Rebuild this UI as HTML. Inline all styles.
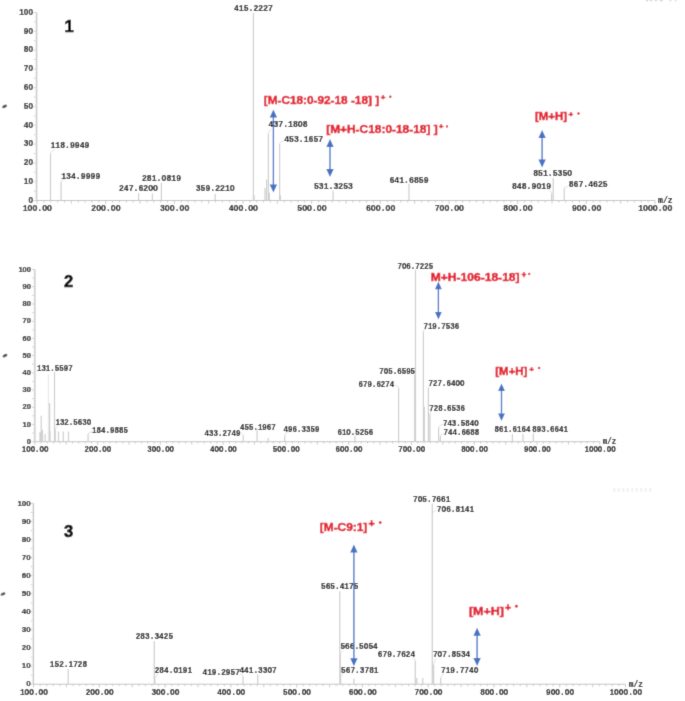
<!DOCTYPE html>
<html><head><meta charset="utf-8"><style>
html,body{margin:0;padding:0;background:#fff;}
svg{display:block;}

.ml{font-family:"Liberation Mono",monospace;font-weight:bold;fill:#0a0a0a;stroke:#0a0a0a;stroke-width:0.14px;}
.yl{font-family:"Liberation Sans",sans-serif;font-weight:bold;fill:#222;stroke:#222;stroke-width:0.18px;}
.num{font-family:"Liberation Sans",sans-serif;font-weight:bold;font-size:16.5px;fill:#000;stroke:#000;stroke-width:0.6px;}
.red{font-family:"Liberation Sans",sans-serif;font-weight:bold;fill:#e31b2c;stroke:#e31b2c;stroke-width:0.45px;}
</style></head><body>
<svg width="685" height="701" viewBox="0 0 685 701">
<defs><filter id="bl" x="0" y="0" width="685" height="701" filterUnits="userSpaceOnUse"><feConvolveMatrix order="3" kernelMatrix="1 6 1 6 36 6 1 6 1" divisor="64" edgeMode="duplicate"/></filter></defs>
<g filter="url(#bl)">
<rect width="685" height="701" fill="#fff"/>
<path d="M36.8 12.5V200.5H655" stroke="#c4c4c4" stroke-width="1" fill="none"/>
<path d="M33.4 200.5H36.8M35.4 198.62H36.8M35.4 196.74H36.8M35.4 194.86H36.8M35.4 192.98H36.8M33.8 191.1H36.8M35.4 189.22H36.8M35.4 187.34H36.8M35.4 185.46H36.8M35.4 183.58H36.8M33.4 181.7H36.8M35.4 179.82H36.8M35.4 177.94H36.8M35.4 176.06H36.8M35.4 174.18H36.8M33.8 172.3H36.8M35.4 170.42H36.8M35.4 168.54H36.8M35.4 166.66H36.8M35.4 164.78H36.8M33.4 162.9H36.8M35.4 161.02H36.8M35.4 159.14H36.8M35.4 157.26H36.8M35.4 155.38H36.8M33.8 153.5H36.8M35.4 151.62H36.8M35.4 149.74H36.8M35.4 147.86H36.8M35.4 145.98H36.8M33.4 144.1H36.8M35.4 142.22H36.8M35.4 140.34H36.8M35.4 138.46H36.8M35.4 136.58H36.8M33.8 134.7H36.8M35.4 132.82H36.8M35.4 130.94H36.8M35.4 129.06H36.8M35.4 127.18H36.8M33.4 125.3H36.8M35.4 123.42H36.8M35.4 121.54H36.8M35.4 119.66H36.8M35.4 117.78H36.8M33.8 115.9H36.8M35.4 114.02H36.8M35.4 112.14H36.8M35.4 110.26H36.8M35.4 108.38H36.8M33.4 106.5H36.8M35.4 104.62H36.8M35.4 102.74H36.8M35.4 100.86H36.8M35.4 98.98H36.8M33.8 97.1H36.8M35.4 95.22H36.8M35.4 93.34H36.8M35.4 91.46H36.8M35.4 89.58H36.8M33.4 87.7H36.8M35.4 85.82H36.8M35.4 83.94H36.8M35.4 82.06H36.8M35.4 80.18H36.8M33.8 78.3H36.8M35.4 76.42H36.8M35.4 74.54H36.8M35.4 72.66H36.8M35.4 70.78H36.8M33.4 68.9H36.8M35.4 67.02H36.8M35.4 65.14H36.8M35.4 63.26H36.8M35.4 61.38H36.8M33.8 59.5H36.8M35.4 57.62H36.8M35.4 55.74H36.8M35.4 53.86H36.8M35.4 51.98H36.8M33.4 50.1H36.8M35.4 48.22H36.8M35.4 46.34H36.8M35.4 44.46H36.8M35.4 42.58H36.8M33.8 40.7H36.8M35.4 38.82H36.8M35.4 36.94H36.8M35.4 35.06H36.8M35.4 33.18H36.8M33.4 31.3H36.8M35.4 29.42H36.8M35.4 27.54H36.8M35.4 25.66H36.8M35.4 23.78H36.8M33.8 21.9H36.8M35.4 20.02H36.8M35.4 18.14H36.8M35.4 16.26H36.8M35.4 14.38H36.8M33.4 12.5H36.8" stroke="#c4c4c4" stroke-width="0.8" fill="none"/>
<path d="M37 200.5V203.9M43.87 200.5V202.5M50.73 200.5V202.5M57.6 200.5V202.5M64.47 200.5V202.5M71.33 200.5V203.7M78.2 200.5V202.5M85.07 200.5V202.5M91.93 200.5V202.5M98.8 200.5V202.5M105.67 200.5V203.9M112.53 200.5V202.5M119.4 200.5V202.5M126.27 200.5V202.5M133.13 200.5V202.5M140 200.5V203.7M146.87 200.5V202.5M153.73 200.5V202.5M160.6 200.5V202.5M167.47 200.5V202.5M174.33 200.5V203.9M181.2 200.5V202.5M188.07 200.5V202.5M194.93 200.5V202.5M201.8 200.5V202.5M208.67 200.5V203.7M215.53 200.5V202.5M222.4 200.5V202.5M229.27 200.5V202.5M236.13 200.5V202.5M243 200.5V203.9M249.87 200.5V202.5M256.73 200.5V202.5M263.6 200.5V202.5M270.47 200.5V202.5M277.33 200.5V203.7M284.2 200.5V202.5M291.07 200.5V202.5M297.93 200.5V202.5M304.8 200.5V202.5M311.67 200.5V203.9M318.53 200.5V202.5M325.4 200.5V202.5M332.27 200.5V202.5M339.13 200.5V202.5M346 200.5V203.7M352.87 200.5V202.5M359.73 200.5V202.5M366.6 200.5V202.5M373.47 200.5V202.5M380.33 200.5V203.9M387.2 200.5V202.5M394.07 200.5V202.5M400.93 200.5V202.5M407.8 200.5V202.5M414.67 200.5V203.7M421.53 200.5V202.5M428.4 200.5V202.5M435.27 200.5V202.5M442.13 200.5V202.5M449 200.5V203.9M455.87 200.5V202.5M462.73 200.5V202.5M469.6 200.5V202.5M476.47 200.5V202.5M483.33 200.5V203.7M490.2 200.5V202.5M497.07 200.5V202.5M503.93 200.5V202.5M510.8 200.5V202.5M517.67 200.5V203.9M524.53 200.5V202.5M531.4 200.5V202.5M538.27 200.5V202.5M545.13 200.5V202.5M552 200.5V203.7M558.87 200.5V202.5M565.73 200.5V202.5M572.6 200.5V202.5M579.47 200.5V202.5M586.33 200.5V203.9M593.2 200.5V202.5M600.07 200.5V202.5M606.93 200.5V202.5M613.8 200.5V202.5M620.67 200.5V203.7M627.53 200.5V202.5M634.4 200.5V202.5M641.27 200.5V202.5M648.13 200.5V202.5M655 200.5V203.9" stroke="#c4c4c4" stroke-width="0.9" fill="none"/>
<text x="33.1" y="202.85" text-anchor="end" class="yl" font-size="8.3">0</text>
<text x="33.1" y="184.05" text-anchor="end" class="yl" font-size="8.3">10</text>
<text x="33.1" y="165.25" text-anchor="end" class="yl" font-size="8.3">20</text>
<text x="33.1" y="146.45" text-anchor="end" class="yl" font-size="8.3">30</text>
<text x="33.1" y="127.65" text-anchor="end" class="yl" font-size="8.3">40</text>
<text x="33.1" y="108.85" text-anchor="end" class="yl" font-size="8.3">50</text>
<text x="33.1" y="90.05" text-anchor="end" class="yl" font-size="8.3">60</text>
<text x="33.1" y="71.25" text-anchor="end" class="yl" font-size="8.3">70</text>
<text x="33.1" y="52.45" text-anchor="end" class="yl" font-size="8.3">80</text>
<text x="33.1" y="33.65" text-anchor="end" class="yl" font-size="8.3">90</text>
<text x="33.1" y="14.85" text-anchor="end" class="yl" font-size="8.3">100</text>
<text transform="translate(37.3 208.4) scale(1 1.1)" x="0" y="2.77" text-anchor="middle" class="ml" font-size="8.15">1OO.OO</text>
<text transform="translate(105.97 208.4) scale(1 1.1)" x="0" y="2.77" text-anchor="middle" class="ml" font-size="8.15">2OO.OO</text>
<text transform="translate(174.63 208.4) scale(1 1.1)" x="0" y="2.77" text-anchor="middle" class="ml" font-size="8.15">3OO.OO</text>
<text transform="translate(243.3 208.4) scale(1 1.1)" x="0" y="2.77" text-anchor="middle" class="ml" font-size="8.15">4OO.OO</text>
<text transform="translate(311.97 208.4) scale(1 1.1)" x="0" y="2.77" text-anchor="middle" class="ml" font-size="8.15">5OO.OO</text>
<text transform="translate(380.63 208.4) scale(1 1.1)" x="0" y="2.77" text-anchor="middle" class="ml" font-size="8.15">6OO.OO</text>
<text transform="translate(449.3 208.4) scale(1 1.1)" x="0" y="2.77" text-anchor="middle" class="ml" font-size="8.15">7OO.OO</text>
<text transform="translate(517.97 208.4) scale(1 1.1)" x="0" y="2.77" text-anchor="middle" class="ml" font-size="8.15">8OO.OO</text>
<text transform="translate(586.63 208.4) scale(1 1.1)" x="0" y="2.77" text-anchor="middle" class="ml" font-size="8.15">9OO.OO</text>
<text transform="translate(655.3 208.4) scale(1 1.1)" x="0" y="2.77" text-anchor="middle" class="ml" font-size="8.15">1OOO.OO</text>
<text transform="translate(658 200.4) scale(1 1.1)" x="0" y="2.77" text-anchor="start" class="ml" font-size="8.15">m/z</text>
<path d="M50.5 200.5V153.5M61.1 200.5V181.8M138.6 200.5V193.3M152.4 200.5V193.6M161.4 200.5V182.8M215.2 200.5V194M253.4 200.5V12.8M254.1 200.5V195.2M265 200.5V188M266.6 200.5V179.5M268.4 200.5V133.4M269.3 200.5V192.8M279.6 200.5V143.7M280.4 200.5V195.2M333.1 200.5V190.8M409 200.5V183.7M551.6 200.5V193.5M553.2 200.5V178M564.2 200.5V188.2" stroke="#cecece" stroke-width="1.2" fill="none"/>
<path d="M50.5 153.5Q50.5 151.3 54.7 149.1M61.1 181.8Q61.1 180.3 65.3 178.8M268.4 133.4Q268.4 131.2 271.4 129M279.6 143.7Q279.6 142.15 283.4 140.6M551.6 193.5Q551.6 191.5 548.5 189.5M564.2 188.2Q564.2 187.4 567.8 186.6" stroke="#d8d8d8" stroke-width="0.8" fill="none"/>
<text transform="translate(253.4 7.5) scale(1 1.1)" x="0" y="2.77" text-anchor="middle" class="ml" font-size="8.15">415.2227</text>
<text transform="translate(69.95 144.5) scale(1 1.1)" x="0" y="2.77" text-anchor="middle" class="ml" font-size="8.15">118.9949</text>
<text transform="translate(80.75 175.6) scale(1 1.1)" x="0" y="2.77" text-anchor="middle" class="ml" font-size="8.15">134.9999</text>
<text transform="translate(138.4 188.4) scale(1 1.1)" x="0" y="2.77" text-anchor="middle" class="ml" font-size="8.15">247.62OO</text>
<text transform="translate(161.5 177.9) scale(1 1.1)" x="0" y="2.77" text-anchor="middle" class="ml" font-size="8.15">281.O819</text>
<text transform="translate(215.2 188.4) scale(1 1.1)" x="0" y="2.77" text-anchor="middle" class="ml" font-size="8.15">359.221O</text>
<text transform="translate(288.1 124.2) scale(1 1.1)" x="0" y="2.77" text-anchor="middle" class="ml" font-size="8.15">437.18O8</text>
<text transform="translate(303.7 138.9) scale(1 1.1)" x="0" y="2.77" text-anchor="middle" class="ml" font-size="8.15">453.1657</text>
<text transform="translate(333.4 185.8) scale(1 1.1)" x="0" y="2.77" text-anchor="middle" class="ml" font-size="8.15">531.3253</text>
<text transform="translate(409 179.5) scale(1 1.1)" x="0" y="2.77" text-anchor="middle" class="ml" font-size="8.15">641.6859</text>
<text transform="translate(531.5 185.5) scale(1 1.1)" x="0" y="2.77" text-anchor="middle" class="ml" font-size="8.15">848.9O19</text>
<text transform="translate(552.7 172.8) scale(1 1.1)" x="0" y="2.77" text-anchor="middle" class="ml" font-size="8.15">851.535O</text>
<text transform="translate(588.2 184.2) scale(1 1.1)" x="0" y="2.77" text-anchor="middle" class="ml" font-size="8.15">867.4625</text>
<ellipse cx="4.6" cy="106.3" rx="2.6" ry="1.5" transform="rotate(-25 4.6 106.3)" fill="#555"/>
<text x="64.6" y="31.7" class="num">1</text>
<path d="M35 269.5V441.7H599.8" stroke="#c4c4c4" stroke-width="1" fill="none"/>
<path d="M31.89 441.7H35M33.72 439.98H35M33.72 438.26H35M33.72 436.53H35M33.72 434.81H35M32.26 433.09H35M33.72 431.37H35M33.72 429.65H35M33.72 427.92H35M33.72 426.2H35M31.89 424.48H35M33.72 422.76H35M33.72 421.04H35M33.72 419.31H35M33.72 417.59H35M32.26 415.87H35M33.72 414.15H35M33.72 412.43H35M33.72 410.7H35M33.72 408.98H35M31.89 407.26H35M33.72 405.54H35M33.72 403.82H35M33.72 402.09H35M33.72 400.37H35M32.26 398.65H35M33.72 396.93H35M33.72 395.21H35M33.72 393.48H35M33.72 391.76H35M31.89 390.04H35M33.72 388.32H35M33.72 386.6H35M33.72 384.87H35M33.72 383.15H35M32.26 381.43H35M33.72 379.71H35M33.72 377.99H35M33.72 376.26H35M33.72 374.54H35M31.89 372.82H35M33.72 371.1H35M33.72 369.38H35M33.72 367.65H35M33.72 365.93H35M32.26 364.21H35M33.72 362.49H35M33.72 360.77H35M33.72 359.04H35M33.72 357.32H35M31.89 355.6H35M33.72 353.88H35M33.72 352.16H35M33.72 350.43H35M33.72 348.71H35M32.26 346.99H35M33.72 345.27H35M33.72 343.55H35M33.72 341.82H35M33.72 340.1H35M31.89 338.38H35M33.72 336.66H35M33.72 334.94H35M33.72 333.21H35M33.72 331.49H35M32.26 329.77H35M33.72 328.05H35M33.72 326.33H35M33.72 324.6H35M33.72 322.88H35M31.89 321.16H35M33.72 319.44H35M33.72 317.72H35M33.72 315.99H35M33.72 314.27H35M32.26 312.55H35M33.72 310.83H35M33.72 309.11H35M33.72 307.38H35M33.72 305.66H35M31.89 303.94H35M33.72 302.22H35M33.72 300.5H35M33.72 298.77H35M33.72 297.05H35M32.26 295.33H35M33.72 293.61H35M33.72 291.89H35M33.72 290.16H35M33.72 288.44H35M31.89 286.72H35M33.72 285H35M33.72 283.28H35M33.72 281.55H35M33.72 279.83H35M32.26 278.11H35M33.72 276.39H35M33.72 274.67H35M33.72 272.94H35M33.72 271.22H35M31.89 269.5H35" stroke="#c4c4c4" stroke-width="0.8" fill="none"/>
<path d="M34.8 441.7V444.81M41.08 441.7V443.53M47.36 441.7V443.53M53.63 441.7V443.53M59.91 441.7V443.53M66.19 441.7V444.62M72.47 441.7V443.53M78.74 441.7V443.53M85.02 441.7V443.53M91.3 441.7V443.53M97.58 441.7V444.81M103.86 441.7V443.53M110.13 441.7V443.53M116.41 441.7V443.53M122.69 441.7V443.53M128.97 441.7V444.62M135.24 441.7V443.53M141.52 441.7V443.53M147.8 441.7V443.53M154.08 441.7V443.53M160.36 441.7V444.81M166.63 441.7V443.53M172.91 441.7V443.53M179.19 441.7V443.53M185.47 441.7V443.53M191.74 441.7V444.62M198.02 441.7V443.53M204.3 441.7V443.53M210.58 441.7V443.53M216.86 441.7V443.53M223.13 441.7V444.81M229.41 441.7V443.53M235.69 441.7V443.53M241.97 441.7V443.53M248.24 441.7V443.53M254.52 441.7V444.62M260.8 441.7V443.53M267.08 441.7V443.53M273.36 441.7V443.53M279.63 441.7V443.53M285.91 441.7V444.81M292.19 441.7V443.53M298.47 441.7V443.53M304.74 441.7V443.53M311.02 441.7V443.53M317.3 441.7V444.62M323.58 441.7V443.53M329.86 441.7V443.53M336.13 441.7V443.53M342.41 441.7V443.53M348.69 441.7V444.81M354.97 441.7V443.53M361.24 441.7V443.53M367.52 441.7V443.53M373.8 441.7V443.53M380.08 441.7V444.62M386.36 441.7V443.53M392.63 441.7V443.53M398.91 441.7V443.53M405.19 441.7V443.53M411.47 441.7V444.81M417.74 441.7V443.53M424.02 441.7V443.53M430.3 441.7V443.53M436.58 441.7V443.53M442.86 441.7V444.62M449.13 441.7V443.53M455.41 441.7V443.53M461.69 441.7V443.53M467.97 441.7V443.53M474.24 441.7V444.81M480.52 441.7V443.53M486.8 441.7V443.53M493.08 441.7V443.53M499.36 441.7V443.53M505.63 441.7V444.62M511.91 441.7V443.53M518.19 441.7V443.53M524.47 441.7V443.53M530.74 441.7V443.53M537.02 441.7V444.81M543.3 441.7V443.53M549.58 441.7V443.53M555.86 441.7V443.53M562.13 441.7V443.53M568.41 441.7V444.62M574.69 441.7V443.53M580.97 441.7V443.53M587.24 441.7V443.53M593.52 441.7V443.53M599.8 441.7V444.81" stroke="#c4c4c4" stroke-width="0.9" fill="none"/>
<text x="31.05" y="443.85" text-anchor="end" class="yl" font-size="7.59">0</text>
<text x="31.05" y="426.63" text-anchor="end" class="yl" font-size="7.59">10</text>
<text x="31.05" y="409.41" text-anchor="end" class="yl" font-size="7.59">20</text>
<text x="31.05" y="392.19" text-anchor="end" class="yl" font-size="7.59">30</text>
<text x="31.05" y="374.97" text-anchor="end" class="yl" font-size="7.59">40</text>
<text x="31.05" y="357.75" text-anchor="end" class="yl" font-size="7.59">50</text>
<text x="31.05" y="340.53" text-anchor="end" class="yl" font-size="7.59">60</text>
<text x="31.05" y="323.31" text-anchor="end" class="yl" font-size="7.59">70</text>
<text x="31.05" y="306.09" text-anchor="end" class="yl" font-size="7.59">80</text>
<text x="31.05" y="288.87" text-anchor="end" class="yl" font-size="7.59">90</text>
<text x="31.05" y="271.65" text-anchor="end" class="yl" font-size="7.59">100</text>
<text transform="translate(35.1 448.9) scale(1 1.1)" x="0" y="2.53" text-anchor="middle" class="ml" font-size="7.45">1OO.OO</text>
<text transform="translate(97.88 448.9) scale(1 1.1)" x="0" y="2.53" text-anchor="middle" class="ml" font-size="7.45">2OO.OO</text>
<text transform="translate(160.66 448.9) scale(1 1.1)" x="0" y="2.53" text-anchor="middle" class="ml" font-size="7.45">3OO.OO</text>
<text transform="translate(223.43 448.9) scale(1 1.1)" x="0" y="2.53" text-anchor="middle" class="ml" font-size="7.45">4OO.OO</text>
<text transform="translate(286.21 448.9) scale(1 1.1)" x="0" y="2.53" text-anchor="middle" class="ml" font-size="7.45">5OO.OO</text>
<text transform="translate(348.99 448.9) scale(1 1.1)" x="0" y="2.53" text-anchor="middle" class="ml" font-size="7.45">6OO.OO</text>
<text transform="translate(411.77 448.9) scale(1 1.1)" x="0" y="2.53" text-anchor="middle" class="ml" font-size="7.45">7OO.OO</text>
<text transform="translate(474.54 448.9) scale(1 1.1)" x="0" y="2.53" text-anchor="middle" class="ml" font-size="7.45">8OO.OO</text>
<text transform="translate(537.32 448.9) scale(1 1.1)" x="0" y="2.53" text-anchor="middle" class="ml" font-size="7.45">9OO.OO</text>
<text transform="translate(600.1 448.9) scale(1 1.1)" x="0" y="2.53" text-anchor="middle" class="ml" font-size="7.45">1OOO.OO</text>
<text transform="translate(602.7 441.61) scale(1 1.1)" x="0" y="2.53" text-anchor="start" class="ml" font-size="7.45">m/z</text>
<path d="M40 441.7V432.1M41.2 441.7V415.8M42.5 441.7V429.7M45.1 441.7V434M49.6 441.7V403M50 441.7V431.5M54.5 441.7V372.1M55.2 441.7V429.7M58.5 441.7V431.5M63.3 441.7V431.5M68.5 441.7V431.5M88.1 441.7V434M243.2 441.7V435.5M257.1 441.7V430.3M268.2 441.7V438M284.7 441.7V435.5M355 441.7V436M398.6 441.7V387.8M414.7 441.7V374.7M415.5 441.7V269.8M423.4 441.7V331.5M424.3 441.7V406.8M428.4 441.7V387.8M429.9 441.7V414.1M438.6 441.7V427.3M440.4 441.7V436M512.4 441.7V434M523 441.7V434M533.3 441.7V434" stroke="#cecece" stroke-width="1.2" fill="none"/>
<path d="M48.3 441.7V374.6" stroke="#e4e4e4" stroke-width="1" fill="none"/>
<path d="M55.2 429.7Q55.2 427.6 58.5 425.5M88.1 434Q88.1 432.75 92 431.5M243.2 435.5Q243.2 434 240 432.5M284.7 435.5Q284.7 433.5 288 431.5M398.6 387.8Q398.6 386.4 395 385M423.4 331.5Q423.4 329.75 426.5 328M428.4 387.8Q428.4 386.4 431 385M429.9 414.1Q429.9 412.3 432 410.5M438.6 427.3Q438.6 425.65 443.5 424M440.4 436Q440.4 434.75 444 433.5M533.3 434Q533.3 432.5 536 431" stroke="#d8d8d8" stroke-width="0.8" fill="none"/>
<text transform="translate(54.8 368.7) scale(1 1.1)" x="0" y="2.53" text-anchor="middle" class="ml" font-size="7.45">131.5597</text>
<text transform="translate(73.3 422.3) scale(1 1.1)" x="0" y="2.53" text-anchor="middle" class="ml" font-size="7.45">132.563O</text>
<text transform="translate(110 430.1) scale(1 1.1)" x="0" y="2.53" text-anchor="middle" class="ml" font-size="7.45">184.9885</text>
<text transform="translate(222.5 433.4) scale(1 1.1)" x="0" y="2.53" text-anchor="middle" class="ml" font-size="7.45">433.2749</text>
<text transform="translate(257.9 426.8) scale(1 1.1)" x="0" y="2.53" text-anchor="middle" class="ml" font-size="7.45">455.1967</text>
<text transform="translate(301.5 428.9) scale(1 1.1)" x="0" y="2.53" text-anchor="middle" class="ml" font-size="7.45">496.3359</text>
<text transform="translate(355.3 432.1) scale(1 1.1)" x="0" y="2.53" text-anchor="middle" class="ml" font-size="7.45">61O.5256</text>
<text transform="translate(376.4 384) scale(1 1.1)" x="0" y="2.53" text-anchor="middle" class="ml" font-size="7.45">679.6274</text>
<text transform="translate(397.2 370.8) scale(1 1.1)" x="0" y="2.53" text-anchor="middle" class="ml" font-size="7.45">7O5.6595</text>
<text transform="translate(415.3 266.3) scale(1 1.1)" x="0" y="2.53" text-anchor="middle" class="ml" font-size="7.45">7O6.7225</text>
<text transform="translate(441.3 326.4) scale(1 1.1)" x="0" y="2.53" text-anchor="middle" class="ml" font-size="7.45">719.7536</text>
<text transform="translate(446.5 383.4) scale(1 1.1)" x="0" y="2.53" text-anchor="middle" class="ml" font-size="7.45">727.64OO</text>
<text transform="translate(447.1 408.2) scale(1 1.1)" x="0" y="2.53" text-anchor="middle" class="ml" font-size="7.45">728.6536</text>
<text transform="translate(460.8 423.4) scale(1 1.1)" x="0" y="2.53" text-anchor="middle" class="ml" font-size="7.45">743.584O</text>
<text transform="translate(461.4 432.1) scale(1 1.1)" x="0" y="2.53" text-anchor="middle" class="ml" font-size="7.45">744.6688</text>
<text transform="translate(512.5 429.3) scale(1 1.1)" x="0" y="2.53" text-anchor="middle" class="ml" font-size="7.45">861.6164</text>
<text transform="translate(550.1 429.3) scale(1 1.1)" x="0" y="2.53" text-anchor="middle" class="ml" font-size="7.45">893.6641</text>
<ellipse cx="5" cy="355.6" rx="2.6" ry="1.5" transform="rotate(-25 5 355.6)" fill="#555"/>
<text x="64" y="287.4" class="num">2</text>
<path d="M33.6 503.4V684.2H625.5" stroke="#c4c4c4" stroke-width="1" fill="none"/>
<path d="M30.35 684.2H33.6M32.26 682.39H33.6M32.26 680.58H33.6M32.26 678.78H33.6M32.26 676.97H33.6M30.73 675.16H33.6M32.26 673.35H33.6M32.26 671.54H33.6M32.26 669.74H33.6M32.26 667.93H33.6M30.35 666.12H33.6M32.26 664.31H33.6M32.26 662.5H33.6M32.26 660.7H33.6M32.26 658.89H33.6M30.73 657.08H33.6M32.26 655.27H33.6M32.26 653.46H33.6M32.26 651.66H33.6M32.26 649.85H33.6M30.35 648.04H33.6M32.26 646.23H33.6M32.26 644.42H33.6M32.26 642.62H33.6M32.26 640.81H33.6M30.73 639H33.6M32.26 637.19H33.6M32.26 635.38H33.6M32.26 633.58H33.6M32.26 631.77H33.6M30.35 629.96H33.6M32.26 628.15H33.6M32.26 626.34H33.6M32.26 624.54H33.6M32.26 622.73H33.6M30.73 620.92H33.6M32.26 619.11H33.6M32.26 617.3H33.6M32.26 615.5H33.6M32.26 613.69H33.6M30.35 611.88H33.6M32.26 610.07H33.6M32.26 608.26H33.6M32.26 606.46H33.6M32.26 604.65H33.6M30.73 602.84H33.6M32.26 601.03H33.6M32.26 599.22H33.6M32.26 597.42H33.6M32.26 595.61H33.6M30.35 593.8H33.6M32.26 591.99H33.6M32.26 590.18H33.6M32.26 588.38H33.6M32.26 586.57H33.6M30.73 584.76H33.6M32.26 582.95H33.6M32.26 581.14H33.6M32.26 579.34H33.6M32.26 577.53H33.6M30.35 575.72H33.6M32.26 573.91H33.6M32.26 572.1H33.6M32.26 570.3H33.6M32.26 568.49H33.6M30.73 566.68H33.6M32.26 564.87H33.6M32.26 563.06H33.6M32.26 561.26H33.6M32.26 559.45H33.6M30.35 557.64H33.6M32.26 555.83H33.6M32.26 554.02H33.6M32.26 552.22H33.6M32.26 550.41H33.6M30.73 548.6H33.6M32.26 546.79H33.6M32.26 544.98H33.6M32.26 543.18H33.6M32.26 541.37H33.6M30.35 539.56H33.6M32.26 537.75H33.6M32.26 535.94H33.6M32.26 534.14H33.6M32.26 532.33H33.6M30.73 530.52H33.6M32.26 528.71H33.6M32.26 526.9H33.6M32.26 525.1H33.6M32.26 523.29H33.6M30.35 521.48H33.6M32.26 519.67H33.6M32.26 517.86H33.6M32.26 516.06H33.6M32.26 514.25H33.6M30.73 512.44H33.6M32.26 510.63H33.6M32.26 508.82H33.6M32.26 507.02H33.6M32.26 505.21H33.6M30.35 503.4H33.6" stroke="#c4c4c4" stroke-width="0.8" fill="none"/>
<path d="M33.6 684.2V687.45M40.18 684.2V686.11M46.75 684.2V686.11M53.33 684.2V686.11M59.91 684.2V686.11M66.48 684.2V687.26M73.06 684.2V686.11M79.64 684.2V686.11M86.21 684.2V686.11M92.79 684.2V686.11M99.37 684.2V687.45M105.94 684.2V686.11M112.52 684.2V686.11M119.1 684.2V686.11M125.67 684.2V686.11M132.25 684.2V687.26M138.83 684.2V686.11M145.4 684.2V686.11M151.98 684.2V686.11M158.56 684.2V686.11M165.13 684.2V687.45M171.71 684.2V686.11M178.29 684.2V686.11M184.86 684.2V686.11M191.44 684.2V686.11M198.02 684.2V687.26M204.59 684.2V686.11M211.17 684.2V686.11M217.75 684.2V686.11M224.32 684.2V686.11M230.9 684.2V687.45M237.48 684.2V686.11M244.05 684.2V686.11M250.63 684.2V686.11M257.21 684.2V686.11M263.78 684.2V687.26M270.36 684.2V686.11M276.94 684.2V686.11M283.51 684.2V686.11M290.09 684.2V686.11M296.67 684.2V687.45M303.24 684.2V686.11M309.82 684.2V686.11M316.4 684.2V686.11M322.97 684.2V686.11M329.55 684.2V687.26M336.13 684.2V686.11M342.7 684.2V686.11M349.28 684.2V686.11M355.86 684.2V686.11M362.43 684.2V687.45M369.01 684.2V686.11M375.59 684.2V686.11M382.16 684.2V686.11M388.74 684.2V686.11M395.32 684.2V687.26M401.89 684.2V686.11M408.47 684.2V686.11M415.05 684.2V686.11M421.62 684.2V686.11M428.2 684.2V687.45M434.78 684.2V686.11M441.35 684.2V686.11M447.93 684.2V686.11M454.51 684.2V686.11M461.08 684.2V687.26M467.66 684.2V686.11M474.24 684.2V686.11M480.81 684.2V686.11M487.39 684.2V686.11M493.97 684.2V687.45M500.54 684.2V686.11M507.12 684.2V686.11M513.7 684.2V686.11M520.27 684.2V686.11M526.85 684.2V687.26M533.43 684.2V686.11M540 684.2V686.11M546.58 684.2V686.11M553.16 684.2V686.11M559.73 684.2V687.45M566.31 684.2V686.11M572.89 684.2V686.11M579.46 684.2V686.11M586.04 684.2V686.11M592.62 684.2V687.26M599.19 684.2V686.11M605.77 684.2V686.11M612.35 684.2V686.11M618.92 684.2V686.11M625.5 684.2V687.45" stroke="#c4c4c4" stroke-width="0.9" fill="none"/>
<text x="30.7" y="686.45" text-anchor="end" class="yl" font-size="7.94">0</text>
<text x="30.7" y="668.37" text-anchor="end" class="yl" font-size="7.94">10</text>
<text x="30.7" y="650.29" text-anchor="end" class="yl" font-size="7.94">20</text>
<text x="30.7" y="632.21" text-anchor="end" class="yl" font-size="7.94">30</text>
<text x="30.7" y="614.13" text-anchor="end" class="yl" font-size="7.94">40</text>
<text x="30.7" y="596.05" text-anchor="end" class="yl" font-size="7.94">50</text>
<text x="30.7" y="577.97" text-anchor="end" class="yl" font-size="7.94">60</text>
<text x="30.7" y="559.89" text-anchor="end" class="yl" font-size="7.94">70</text>
<text x="30.7" y="541.81" text-anchor="end" class="yl" font-size="7.94">80</text>
<text x="30.7" y="523.73" text-anchor="end" class="yl" font-size="7.94">90</text>
<text x="30.7" y="505.65" text-anchor="end" class="yl" font-size="7.94">100</text>
<text transform="translate(33.9 691.8) scale(1 1.1)" x="0" y="2.65" text-anchor="middle" class="ml" font-size="7.8">1OO.OO</text>
<text transform="translate(99.67 691.8) scale(1 1.1)" x="0" y="2.65" text-anchor="middle" class="ml" font-size="7.8">2OO.OO</text>
<text transform="translate(165.43 691.8) scale(1 1.1)" x="0" y="2.65" text-anchor="middle" class="ml" font-size="7.8">3OO.OO</text>
<text transform="translate(231.2 691.8) scale(1 1.1)" x="0" y="2.65" text-anchor="middle" class="ml" font-size="7.8">4OO.OO</text>
<text transform="translate(296.97 691.8) scale(1 1.1)" x="0" y="2.65" text-anchor="middle" class="ml" font-size="7.8">5OO.OO</text>
<text transform="translate(362.73 691.8) scale(1 1.1)" x="0" y="2.65" text-anchor="middle" class="ml" font-size="7.8">6OO.OO</text>
<text transform="translate(428.5 691.8) scale(1 1.1)" x="0" y="2.65" text-anchor="middle" class="ml" font-size="7.8">7OO.OO</text>
<text transform="translate(494.27 691.8) scale(1 1.1)" x="0" y="2.65" text-anchor="middle" class="ml" font-size="7.8">8OO.OO</text>
<text transform="translate(560.03 691.8) scale(1 1.1)" x="0" y="2.65" text-anchor="middle" class="ml" font-size="7.8">9OO.OO</text>
<text transform="translate(625.8 691.8) scale(1 1.1)" x="0" y="2.65" text-anchor="middle" class="ml" font-size="7.8">1OOO.OO</text>
<text transform="translate(628.8 684.1) scale(1 1.1)" x="0" y="2.65" text-anchor="start" class="ml" font-size="7.8">m/z</text>
<path d="M68.2 684.2V668.9M154.3 684.2V640.9M154.8 684.2V678M243 684.2V676.5M257.7 684.2V674.5M339.8 684.2V591.2M340.3 684.2V655M340.6 684.2V678M353.9 684.2V678.6M415.3 684.2V660.7M416.8 684.2V678M422.8 684.2V678M432.3 684.2V503.6M432.3 684.2V513.5M433.6 684.2V665M440.7 684.2V678" stroke="#cecece" stroke-width="1.2" fill="none"/>
<path d="M154.8 678Q154.8 676 158 674M243 676.5Q243 675 240 673.5M340.3 655Q340.3 652.5 343.5 650M340.6 678Q340.6 675.75 343.5 673.5M415.3 660.7Q415.3 658.85 412 657M432.3 513.5Q432.3 511.75 436.5 510M433.6 665Q433.6 661.5 436.5 658M440.7 678Q440.7 676 444 674" stroke="#d8d8d8" stroke-width="0.8" fill="none"/>
<text transform="translate(68.5 664.5) scale(1 1.1)" x="0" y="2.65" text-anchor="middle" class="ml" font-size="7.8">152.1728</text>
<text transform="translate(154.4 636) scale(1 1.1)" x="0" y="2.65" text-anchor="middle" class="ml" font-size="7.8">283.3425</text>
<text transform="translate(173.4 670.4) scale(1 1.1)" x="0" y="2.65" text-anchor="middle" class="ml" font-size="7.8">284.O191</text>
<text transform="translate(221.2 671.9) scale(1 1.1)" x="0" y="2.65" text-anchor="middle" class="ml" font-size="7.8">419.2957</text>
<text transform="translate(258.1 669.6) scale(1 1.1)" x="0" y="2.65" text-anchor="middle" class="ml" font-size="7.8">441.33O7</text>
<text transform="translate(339.7 586.2) scale(1 1.1)" x="0" y="2.65" text-anchor="middle" class="ml" font-size="7.8">565.4175</text>
<text transform="translate(359.1 646.1) scale(1 1.1)" x="0" y="2.65" text-anchor="middle" class="ml" font-size="7.8">566.5O54</text>
<text transform="translate(359.8 670) scale(1 1.1)" x="0" y="2.65" text-anchor="middle" class="ml" font-size="7.8">567.3781</text>
<text transform="translate(396.5 653.6) scale(1 1.1)" x="0" y="2.65" text-anchor="middle" class="ml" font-size="7.8">679.7624</text>
<text transform="translate(431.7 499.4) scale(1 1.1)" x="0" y="2.65" text-anchor="middle" class="ml" font-size="7.8">7O5.7661</text>
<text transform="translate(455.5 509) scale(1 1.1)" x="0" y="2.65" text-anchor="middle" class="ml" font-size="7.8">7O6.8141</text>
<text transform="translate(451.6 654.4) scale(1 1.1)" x="0" y="2.65" text-anchor="middle" class="ml" font-size="7.8">7O7.8534</text>
<text transform="translate(459.7 670) scale(1 1.1)" x="0" y="2.65" text-anchor="middle" class="ml" font-size="7.8">719.774O</text>
<ellipse cx="3" cy="594" rx="2.6" ry="1.5" transform="rotate(-25 3 594)" fill="#555"/>
<text x="64" y="536.9" class="num">3</text>
<path d="M646 0.6h2.2M650 0.6h2.2M654.8 0.6h2.2M659.7 0.6h3M669.6 0.6h1.6M674.9 0.6h1.4" stroke="#d6d6d6" stroke-width="1.2"/>
<path d="M613 490h39" stroke="#f3f3f3" stroke-width="4" stroke-dasharray="2.5 2"/>
<path d="M273.4 117V185.1" stroke="#4472c4" stroke-width="1.35"/><path d="M273.4 109.5L277.1 117.5H269.7Z M273.4 192.6L277.1 184.6H269.7Z" fill="#4472c4"/>
<path d="M330 146.6V169.5" stroke="#4472c4" stroke-width="1.35"/><path d="M330 139.1L333.7 147.1H326.3Z M330 177L333.7 169H326.3Z" fill="#4472c4"/>
<path d="M542.1 137.5V159.9" stroke="#4472c4" stroke-width="1.35"/><path d="M542.1 130L545.8 138H538.4Z M542.1 167.4L545.8 159.4H538.4Z" fill="#4472c4"/>
<path d="M438.4 288.7V312.4" stroke="#4472c4" stroke-width="1.35"/><path d="M438.4 281.6L441.8 289.2H435Z M438.4 319.5L441.8 311.9H435Z" fill="#4472c4"/>
<path d="M501.5 390.5V413.9" stroke="#4472c4" stroke-width="1.35"/><path d="M501.5 383.4L504.9 391H498.1Z M501.5 421L504.9 413.4H498.1Z" fill="#4472c4"/>
<path d="M353.9 552.1V658.7" stroke="#4472c4" stroke-width="1.35"/><path d="M353.9 544.6L357.6 552.6H350.2Z M353.9 666.2L357.6 658.2H350.2Z" fill="#4472c4"/>
<path d="M477.1 635.3V658.5" stroke="#4472c4" stroke-width="1.35"/><path d="M477.1 627.8L480.8 635.8H473.4Z M477.1 666L480.8 658H473.4Z" fill="#4472c4"/>
<text x="263.8" y="103.5" class="red" font-size="11.2" textLength="115.3" lengthAdjust="spacingAndGlyphs">[M-C18:0-92-18 -18] ]</text><text x="380.8" y="100.2" class="red" font-size="8">+</text><circle cx="390.3" cy="96.7" r="1.2" fill="#e31b2c"/>
<text x="326.2" y="132.6" class="red" font-size="11.2" textLength="111.5" lengthAdjust="spacingAndGlyphs">[M+H-C18:0-18-18] ]</text><text x="439" y="129" class="red" font-size="7.5">+</text><circle cx="447" cy="126.5" r="1.15" fill="#e31b2c"/>
<text x="535" y="120.3" class="red" font-size="11.2" textLength="32" lengthAdjust="spacingAndGlyphs">[M+H]</text><text x="568.5" y="117.3" class="red" font-size="8">+</text><circle cx="578.5" cy="113.5" r="1.2" fill="#e31b2c"/>
<text x="430.7" y="280.5" class="red" font-size="10.5" textLength="88.9" lengthAdjust="spacingAndGlyphs">M+H-106-18-18]</text><text x="521.5" y="277.5" class="red" font-size="8.2">+</text><circle cx="529.2" cy="274" r="1.15" fill="#e31b2c"/>
<text x="495.3" y="374.9" class="red" font-size="11" textLength="32.1" lengthAdjust="spacingAndGlyphs">[M+H]</text><text x="529.2" y="372.4" class="red" font-size="8">+</text><circle cx="539.1" cy="368" r="1.2" fill="#e31b2c"/>
<text x="319.8" y="531" class="red" font-size="11.5" textLength="47.5" lengthAdjust="spacingAndGlyphs">[M-C9:1]</text><text x="368.4" y="527" class="red" font-size="10.5">+</text><circle cx="380.2" cy="522.6" r="1.45" fill="#e31b2c"/>
<text x="468.9" y="614.9" class="red" font-size="11.5" textLength="35" lengthAdjust="spacingAndGlyphs">[M+H]</text><text x="505" y="610.6" class="red" font-size="10.5">+</text><circle cx="516.4" cy="606.2" r="1.45" fill="#e31b2c"/>
</g></svg></body></html>
